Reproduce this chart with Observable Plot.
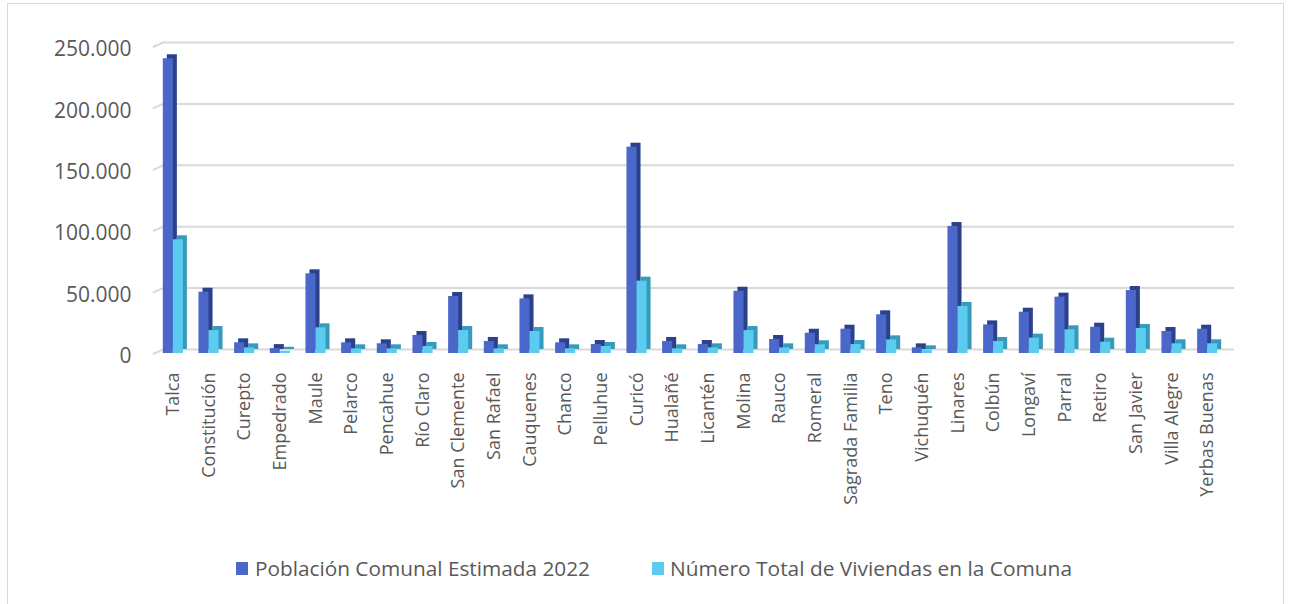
<!DOCTYPE html>
<html><head><meta charset="utf-8">
<script src="https://cdn.jsdelivr.net/npm/d3@7"></script>
<script src="https://cdn.jsdelivr.net/npm/@observablehq/plot@0.6"></script>
<style>
body{margin:0;background:#fff;width:1289px;height:604px;overflow:hidden;position:relative;font-family:"Open Sans",sans-serif}
#frame{position:absolute;left:7px;top:3px;width:1277px;height:640px;border:1px solid #d9d9d9;box-sizing:border-box}
#chart{position:absolute;left:0;top:0}
#legend{position:absolute;left:0;top:548px}
</style></head><body>
<div id="frame"></div>
<div id="chart"></div>
<svg id="legend" width="1289" height="40"></svg>
<script>
const categories = ["Talca","Constitución","Curepto","Empedrado","Maule","Pelarco","Pencahue","Río Claro","San Clemente","San Rafael","Cauquenes","Chanco","Pelluhue","Curicó","Hualañé","Licantén","Molina","Rauco","Romeral","Sagrada Familia","Teno","Vichuquén","Linares","Colbún","Longaví","Parral","Retiro","San Javier","Villa Alegre","Yerbas Buenas"];
const poblacion = [240000,49900,8700,4000,64900,8700,7900,14700,46400,9800,44500,8700,7300,168000,9800,7300,50700,11400,16500,19800,31500,4600,103400,23300,33600,45900,21400,51300,17900,19800];
const viviendas = [92600,18700,4600,1800,20900,3800,3800,5700,18700,3800,17900,3800,5700,58900,3800,4600,18700,4600,7100,7300,11100,3000,38300,9800,12500,19300,9200,20400,7900,7900];
const seriesNames = ["Población Comunal Estimada 2022","Número Total de Viviendas en la Comuna"];
const yTicks = [0,50000,100000,150000,200000,250000];

const fmt = d3.formatLocale({decimal:",", thousands:".", grouping:[3], currency:["$",""]}).format(",d");
const popRows = categories.map((c,i)=>({c, v: poblacion[i], s: seriesNames[0]}));
const vivRows = categories.map((c,i)=>({c, v: viviendas[i], s: seriesNames[1]}));

const H = 540, zeroY = 353;
const inset = 12.8;
const grid = "#d9d9d9";

function slants(a,b,c,d){
  const scales = (b && b.y) ? b : a;
  const dims = (b && b.y) ? d : b;
  const g = d3.create("svg:g");
  for (const t of yTicks){
    const yy = scales.y(t);
    g.append("line").attr("x1", dims.marginLeft-2).attr("y1", yy+1)
      .attr("x2", dims.marginLeft+9).attr("y2", yy-4)
      .attr("stroke", grid).attr("stroke-width", 2);
  }
  return g.node();
}

const chart = Plot.plot({
  width: 1289, height: H,
  marginLeft: 155, marginRight: 64, marginTop: 46, marginBottom: H - zeroY,
  style: {fontFamily: "'Open Sans', sans-serif", background: "transparent", overflow: "visible"},
  x: {domain: categories, padding: 0, round: false, label: null},
  y: {domain: [0,250000], label: null},
  marks: [
    Plot.ruleY(yTicks, {dx: 9, dy: -4, stroke: grid, strokeWidth: 2}),
    slants,
    Plot.barY(popRows, {x: "c", y: "v", fill: "#2c418c", dx: -1, dy: -4, insetLeft: inset, insetRight: inset}),
    Plot.barY(popRows, {x: "c", y: "v", fill: "#4a67c9", dx: -5, insetLeft: inset, insetRight: inset}),
    Plot.barY(vivRows, {x: "c", y: "v", fill: "#3799bb", dx: 9, dy: -4, insetLeft: inset, insetRight: inset}),
    Plot.barY(vivRows, {x: "c", y: "v", fill: "#5ccbf0", dx: 5, insetLeft: inset, insetRight: inset}),
    Plot.axisY({ticks: yTicks, tickFormat: fmt, tickSize: 0, tickPadding: 24, dy: 3, fontSize: 21, fill: "#595959", label: null}),
    Plot.axisX({tickRotate: -90, tickSize: 0, tickPadding: 19, fontSize: 18, fill: "#595959", label: null})
  ]
});
document.getElementById("chart").appendChild(chart);

// legend
const lg = d3.select("#legend");
const colors = ["#4a67c9","#5ccbf0"];
const sw = [236, 652], tx = [255, 670], tl = [335, 402];
seriesNames.forEach((n,i)=>{
  lg.append("rect").attr("x", sw[i]).attr("y", 14).attr("width", 12).attr("height", 13).attr("fill", colors[i]);
  lg.append("text").attr("x", tx[i]).attr("y", 28).attr("font-size", 20)
    .attr("font-family", "'Open Sans', sans-serif").attr("fill", "#595959")
    .attr("textLength", tl[i]).attr("lengthAdjust", "spacingAndGlyphs").text(n);
});
</script>
</body></html>
